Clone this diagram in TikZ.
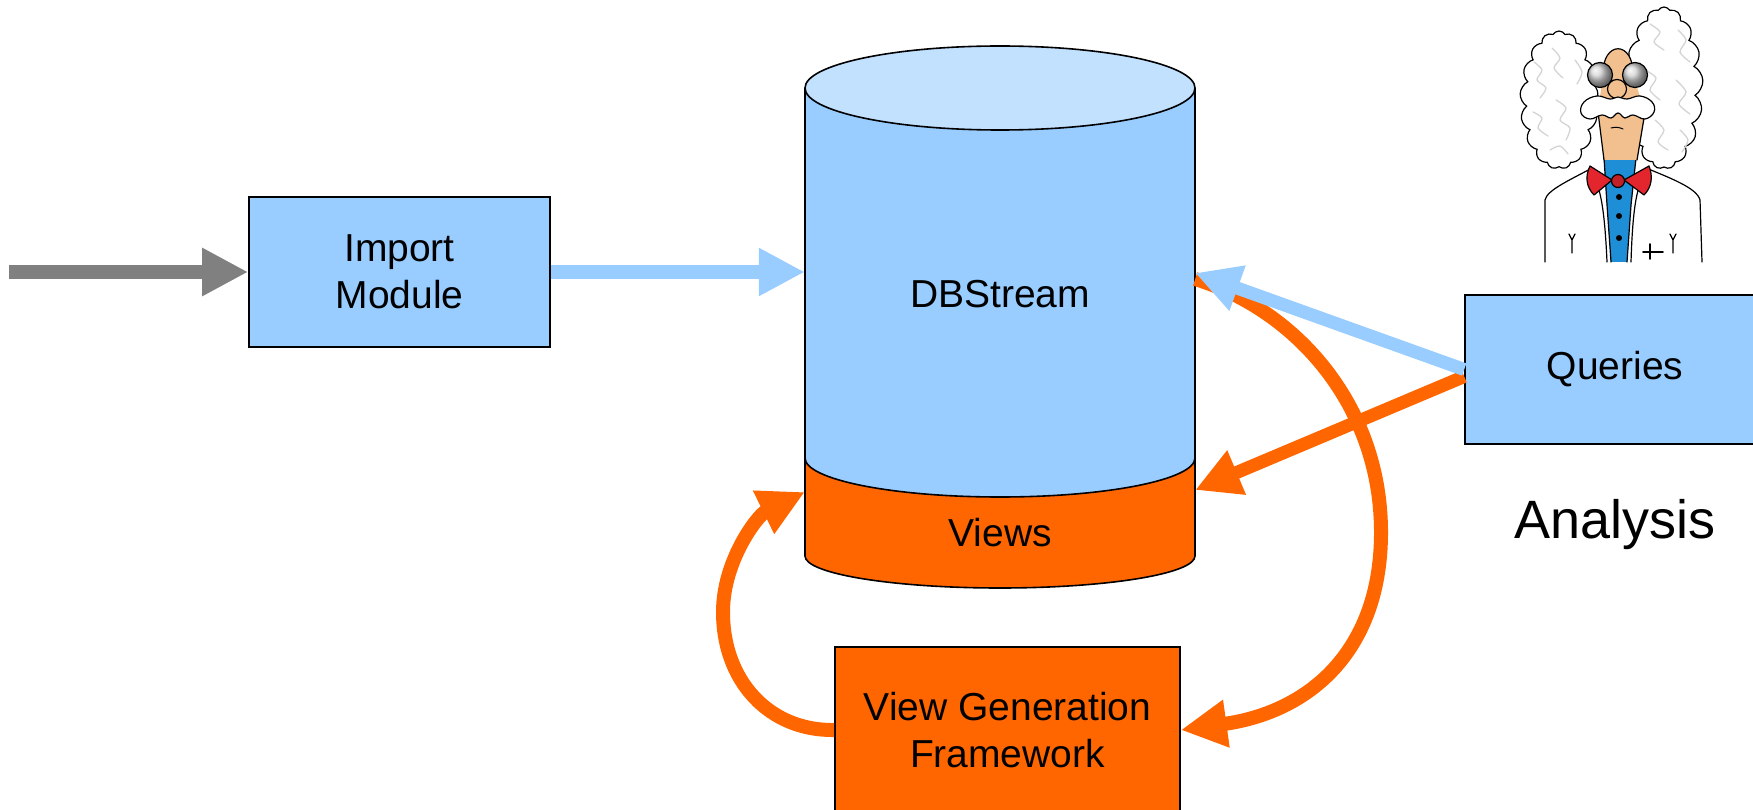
\documentclass[tikz,border=0pt]{standalone}
\usepackage{fontspec}
\setmainfont{Liberation Sans}
\usetikzlibrary{arrows.meta,shapes.symbols}

\definecolor{lblue}{HTML}{99CCFF}
\definecolor{ltop}{HTML}{C2E1FF}
\definecolor{vorange}{HTML}{FF6600}
\definecolor{flowgray}{HTML}{808080}
\definecolor{skin}{HTML}{F2BF8F}
\definecolor{shirtblue}{HTML}{1E8ED6}
\definecolor{tiered}{HTML}{E3262E}
\definecolor{hairgray}{HTML}{D4D4D4}

\tikzset{
  boxtext/.style={font=\fontsize{39}{47}\selectfont},
  box/.style={boxtext, draw=black, line width=1.6pt, inner sep=0pt, align=center},
  label39/.style={boxtext, anchor=base, inner sep=0pt, minimum width=390pt,
                  text height=28pt, text depth=0pt},
  flow/.style={line width=14pt, -{Triangle[length=46pt,width=45pt]}},
  thinflow/.style={line width=13pt, -{Triangle[length=45pt,width=45pt]}},
  outline/.style={draw=black, line width=1.6pt},
  sketch/.style={draw=black, line width=1.2pt, line cap=round, line join=round},
  hairline/.style={draw=hairgray, line width=1.3pt, line cap=round},
  hairball/.style={cloud, cloud puffs=17, cloud puff arc=120, draw=black,
                   line width=1.2pt, fill=white, inner sep=0pt},
}

\begin{document}
\begin{tikzpicture}[x=1pt,y=-1pt]
\clip (0,0) rectangle (1753,810);

% ---------- database cylinder ----------
% blue body
\fill[lblue] (805,88) -- (805,458)
  .. controls (805,479.5) and (892.3,497) .. (1000,497)
  .. controls (1107.7,497) and (1195,479.5) .. (1195,458)
  -- (1195,88) -- cycle;
% orange views band
\fill[vorange] (805,458) -- (805,556)
  .. controls (805,573.7) and (892.3,588) .. (1000,588)
  .. controls (1107.7,588) and (1195,573.7) .. (1195,556)
  -- (1195,458)
  .. controls (1195,479.5) and (1107.7,497) .. (1000,497)
  .. controls (892.3,497) and (805,479.5) .. (805,458) -- cycle;
% outlines
\draw[outline] (805,88) -- (805,556)
  .. controls (805,573.7) and (892.3,588) .. (1000,588)
  .. controls (1107.7,588) and (1195,573.7) .. (1195,556) -- (1195,88);
\draw[outline] (805,458)
  .. controls (805,479.5) and (892.3,497) .. (1000,497)
  .. controls (1107.7,497) and (1195,479.5) .. (1195,458);
\filldraw[outline, fill=ltop] (1000,88) ellipse [x radius=195, y radius=42];

\node[label39] (db) at (1000,308) {DBStream};
\node[label39] (views) at (1000,546) {Views};

% ---------- boxes ----------
\node[box, fill=lblue, minimum width=301pt, minimum height=150pt] (imp) at (399.5,272) {Import\\Module};
\node[box, fill=lblue, minimum width=300pt, minimum height=149pt] (q) at (1615,369.5) {Queries};
\node[box, fill=vorange, minimum width=345pt, minimum height=166pt] (vg) at (1007.5,730) {View Generation\\Framework};
\node[font=\fontsize{54}{60}\selectfont, anchor=base, inner sep=0pt] (ana) at (1615,538) {Analysis};

% ---------- connectors ----------
\coordinate (src) at (9,272);
\draw[flow, flowgray] (src) -- (imp.west);
\draw[flow, lblue] (imp.east) -- (imp.east -| db.west);

% view generation loop
\draw[flow, vorange] ([yshift=15pt]db.east)
  .. controls (1296,310) and (1380,405) .. (1381,530)
  .. controls (1382,650) and (1310,712) .. (vg.east);
\draw[flow, vorange] (vg.west)
  .. controls (770,731) and (723,682) .. (723,612)
  .. controls (723,560) and (758,515) .. ([yshift=40pt]views.west);

% analysis queries
\draw[thinflow, vorange] ([yshift=-7pt]q.west) -- ([yshift=42pt]views.east);
\draw[thinflow, lblue] (q.west) -- ([yshift=21pt]db.east);

% ---------- scientist ----------
% lab coat
\fill[white] (1545,262) -- (1545,200) .. controls (1547,190) and (1570,180) .. (1592,168)
  -- (1646,168) .. controls (1670,178) and (1697,188) .. (1700,200) -- (1702,262) -- cycle;
\draw[sketch] (1545,262) -- (1545,200) .. controls (1547,190) and (1570,180) .. (1592,168);
\draw[sketch] (1646,168) .. controls (1670,178) and (1697,188) .. (1700,200) -- (1702,262);
\draw[sketch] (1590,172) .. controls (1598,182) and (1604,195) .. (1607,262);
\draw[sketch] (1647,172) .. controls (1639,182) and (1633,195) .. (1631,262);
% shirt
\fill[shirtblue] (1604,158) -- (1636,158) -- (1631,205) -- (1627,262) -- (1611,262) -- (1607,205) -- cycle;
\draw[sketch] (1604,158) -- (1607,205) -- (1611,262);
\draw[sketch] (1636,158) -- (1631,205) -- (1627,262);

% hair
\node[hairball, minimum width=78pt, minimum height=138pt, aspect=0.57] (hairL) at (1559,100) {};
\node[hairball, minimum width=78pt, minimum height=162pt, aspect=0.48] (hairR) at (1664,88) {};
\draw[hairline] plot[smooth] coordinates {(1534,62) (1542,70) (1537,80) (1546,88) (1540,98)};
\draw[hairline] plot[smooth] coordinates {(1552,48) (1560,58) (1554,68) (1563,78)};
\draw[hairline] plot[smooth] coordinates {(1533,112) (1542,118) (1538,128) (1548,136)};
\draw[hairline] plot[smooth] coordinates {(1556,100) (1566,108) (1560,120) (1570,128) (1566,140)};
\draw[hairline] plot[smooth] coordinates {(1575,60) (1582,72) (1577,84)};
\draw[hairline] plot[smooth] coordinates {(1550,150) (1560,146) (1568,154)};
\draw[hairline] plot[smooth] coordinates {(1650,24) (1660,32) (1654,42) (1664,50)};
\draw[hairline] plot[smooth] coordinates {(1678,30) (1686,40) (1680,52) (1690,62)};
\draw[hairline] plot[smooth] coordinates {(1645,70) (1656,78) (1650,90) (1660,100)};
\draw[hairline] plot[smooth] coordinates {(1676,80) (1686,92) (1679,104) (1690,114)};
\draw[hairline] plot[smooth] coordinates {(1655,120) (1664,130) (1658,142) (1668,150)};
\draw[hairline] plot[smooth] coordinates {(1680,130) (1688,140) (1682,152)};

% face
\fill[skin] (1603,75) .. controls (1602,40) and (1634,40) .. (1633,75)
  -- (1645,112) -- (1637,160) -- (1604,160) -- (1598,112) -- cycle;
\draw[sketch] (1603,75) .. controls (1602,40) and (1634,40) .. (1633,75);
\draw[sketch] (1598,112) -- (1604,160);
\draw[sketch] (1645,112) -- (1637,160);
\draw[sketch, line width=1pt] (1611,128) .. controls (1615,127) and (1619,127) .. (1623,129);
% nose and glasses
\filldraw[sketch, fill=skin] (1617,89) circle [radius=9.5];
\shade[ball color=gray!35] (1600,75) circle [radius=12.5];
\shade[ball color=gray!35] (1635,75) circle [radius=12.5];
\draw[sketch] (1600,75) circle [radius=12.5];
\draw[sketch] (1635,75) circle [radius=12.5];
% moustache
\filldraw[sketch, fill=white] plot[smooth cycle, tension=0.7] coordinates {
  (1581,113) (1584,102) (1597,96) (1610,99) (1618,97) (1627,99) (1640,96)
  (1652,102) (1654,112) (1645,119) (1633,115) (1625,118) (1618,113)
  (1611,118) (1602,115) (1590,119)};
% bow tie
\filldraw[sketch, fill=tiered] (1612,180) -- (1590,166) .. controls (1585,176) and (1586,187) .. (1594,195) -- cycle;
\filldraw[sketch, fill=tiered] (1624,180) -- (1649,166) .. controls (1653,176) and (1652,187) .. (1644,195) -- cycle;
\filldraw[sketch, fill=tiered!85!black] (1618,181) circle [radius=6.5];
% buttons
\fill[black] (1619,197) circle [radius=3];
\fill[black] (1619,216) circle [radius=3];
\fill[black] (1619,238) circle [radius=3];
% pocket marks and pen
\draw[sketch] (1569,234) -- (1572,240) -- (1575,234) (1572,240) -- (1572,253);
\draw[sketch] (1670,234) -- (1673,240) -- (1676,234) (1673,240) -- (1673,253);
\draw[sketch, line width=1.6pt] (1643,252) -- (1663,252) (1650,244) -- (1650,259);
\end{tikzpicture}
\end{document}
